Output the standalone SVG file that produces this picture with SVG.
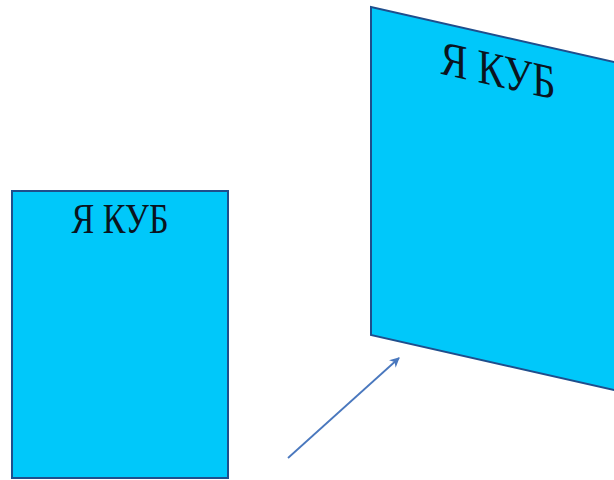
<svg xmlns="http://www.w3.org/2000/svg" width="614" height="480" viewBox="0 0 614 480">
<defs>
<style>
.box{fill:#00C8FA;stroke:#1F4E8C;stroke-width:2}
.lbl{font-family:"Liberation Serif","Times New Roman",serif;fill:#0A1420;text-anchor:middle}
.conn{stroke:#4A78BE;stroke-width:1.8;fill:none}
</style>
<marker id="ah" viewBox="0 0 10 10" refX="9" refY="5" markerWidth="10" markerHeight="10" markerUnits="userSpaceOnUse" orient="auto">
<path d="M0,0 L10,5 L0,10 L3,5 z" fill="#4A78BE"/>
</marker>
</defs>
<rect width="614" height="480" fill="#fff"/>
<g id="cube-left">
<rect class="box" x="12" y="191" width="216" height="287"/>
<text class="lbl" x="120" y="233" font-size="43" textLength="97" lengthAdjust="spacingAndGlyphs">Я КУБ</text>
</g>
<g id="cube-right" transform="translate(371,7) skewY(12.75)">
<rect class="box" x="0" y="0" width="270" height="328"/>
<text class="lbl" x="127" y="51" font-size="49" textLength="115" lengthAdjust="spacingAndGlyphs">Я КУБ</text>
</g>
<g id="connectors">
<line class="conn" x1="288" y1="458" x2="399" y2="358" marker-end="url(#ah)"/>
</g>
</svg>
